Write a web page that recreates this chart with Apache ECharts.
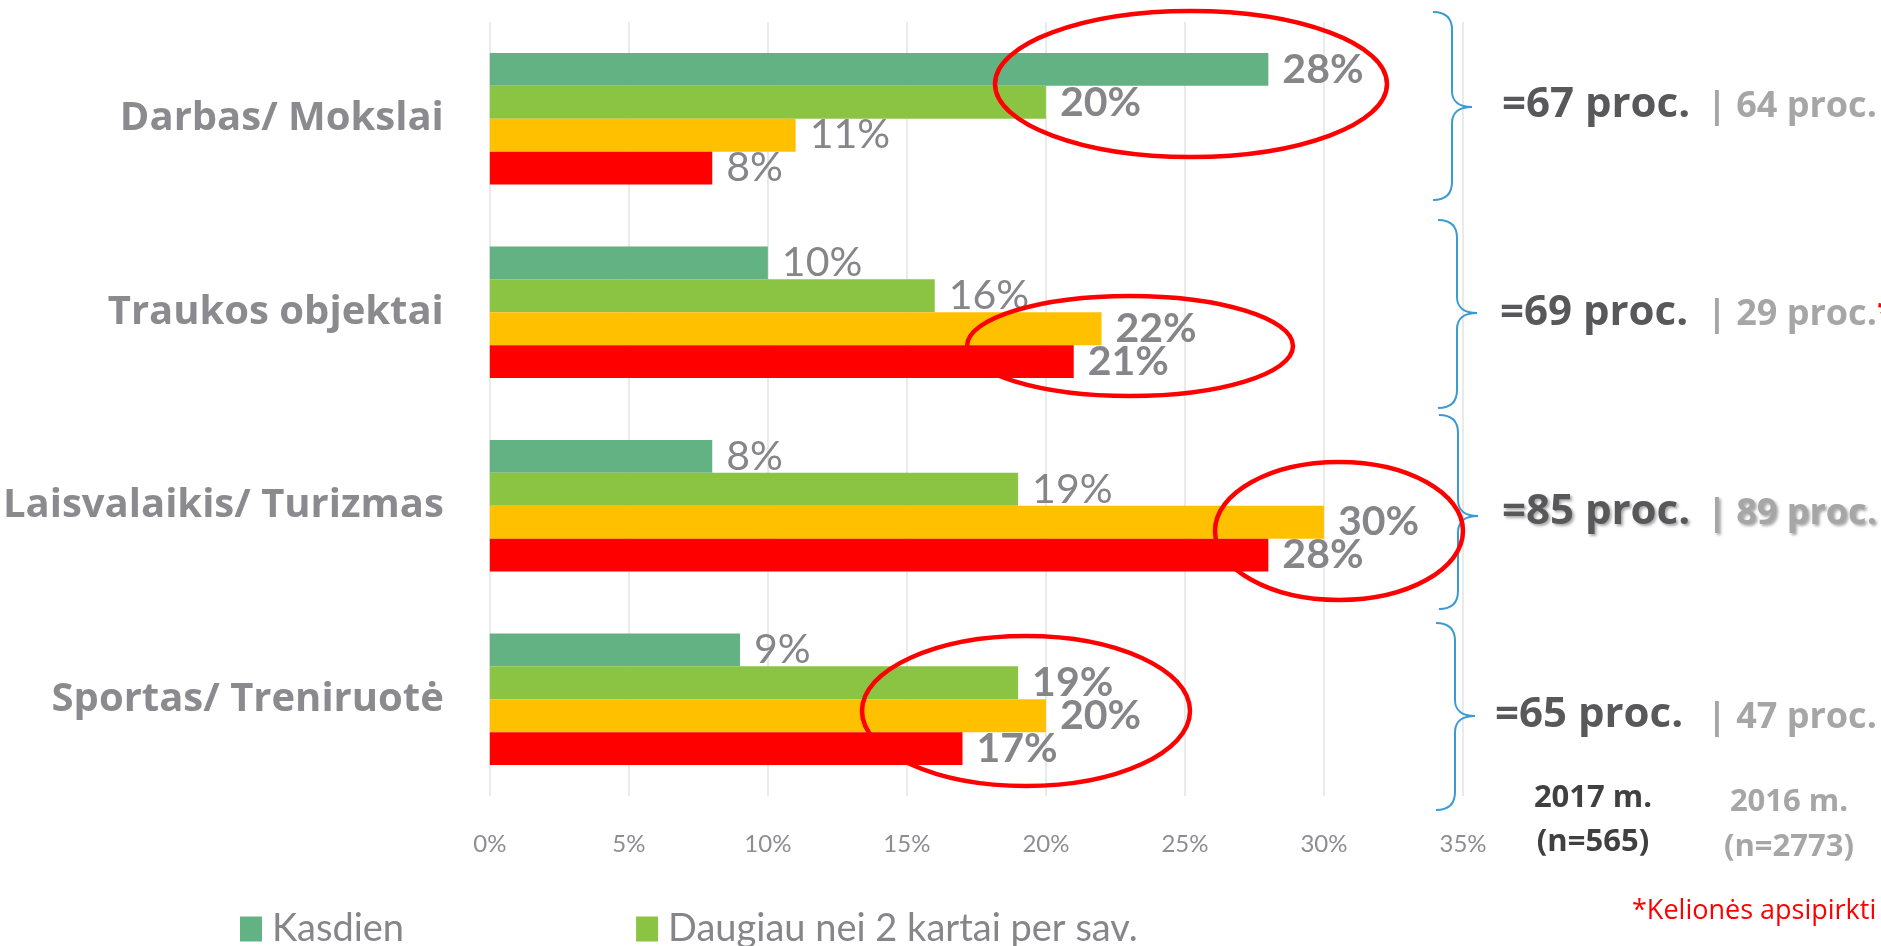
<!DOCTYPE html>
<html>
<head>
<meta charset="utf-8">
<script src="https://cdn.jsdelivr.net/npm/echarts@6/dist/echarts.min.js"></script>
<style>
  html, body { margin: 0; padding: 0; background: #fff; }
  #chart { width: 1881px; height: 946px; }
</style>
</head>
<body>
<div id="chart"></div>
<script>
// kategorijos ir reikšmės (%)
const categories = ['Darbas/ Mokslai', 'Traukos objektai', 'Laisvalaikis/ Turizmas', 'Sportas/ Treniruotė'];
const seriesNames = ['Kasdien', 'Daugiau nei 2 kartai per sav.', '1–2 kartai per sav.', 'Rečiau'];
const kasdien = [28, 10, 8, 9];
const daugiau2 = [20, 16, 19, 19];
const kartaiSav = [11, 22, 30, 20];
const reciau = [8, 21, 28, 17];
// kurios etiketės paryškintos (pagal paveikslą)
const boldKasdien = [true, false, false, false];
const boldDaugiau2 = [true, false, false, true];
const boldKartaiSav = [false, true, true, true];
const boldReciau = [false, true, true, true];
// suvestinės dešinėje
const totals2017 = [67, 69, 85, 65];
const totals2016 = [64, 29, 89, 47];
const xTicks = [0, 5, 10, 15, 20, 25, 30, 35];

const colors = ['#63b283', '#8bc443', '#ffc000', '#ff0000'];
const chart = echarts.init(document.getElementById('chart'));

function withBold(values, bold) {
  return values.map((v, i) => ({ value: v, label: { fontWeight: bold[i] ? 'bold' : 'normal' } }));
}

function barSeries(name, values, bold, color) {
  return {
    name: name,
    type: 'bar',
    data: withBold(values, bold),
    barGap: 0,
    barCategoryGap: '32%',
    itemStyle: { color: color },
    label: {
      show: true,
      position: 'right',
      distance: 14,
      formatter: '{c}%',
      fontFamily: 'Lato',
      fontSize: 41,
      color: '#86868a'
    }
  };
}

const option = {
  animation: false,
  backgroundColor: '#fff',
  grid: { left: 469, right: 418, top: 22, bottom: 150, containLabel: false },
  legend: {
    data: seriesNames.slice(0, 2),
    left: 235,
    top: 905,
    icon: 'rect',
    itemWidth: 22,
    itemHeight: 25,
    itemGap: 232,
    textStyle: { fontFamily: 'Lato', fontSize: 38, color: '#86868a', padding: [0, 0, 0, 5] }
  },
  xAxis: {
    type: 'value',
    min: 0,
    max: 35,
    interval: 5,
    axisLine: { show: false },
    axisTick: { show: false },
    splitLine: { lineStyle: { color: '#e3e3e3', width: 1.5 } },
    axisLabel: {
      formatter: v => xTicks.includes(v) ? v + '%' : '',
      fontFamily: 'Lato',
      fontSize: 24,
      color: '#8e8e92',
      margin: 36
    }
  },
  yAxis: {
    type: 'category',
    data: categories,
    inverse: true,
    axisLine: { show: false },
    axisTick: { show: false },
    axisLabel: {
      fontFamily: 'Open Sans',
      fontWeight: 'bold',
      fontSize: 40,
      color: '#8b8b8f',
      margin: 46
    }
  },
  series: [
    barSeries(seriesNames[0], kasdien, boldKasdien, colors[0]),
    barSeries(seriesNames[1], daugiau2, boldDaugiau2, colors[1]),
    barSeries(seriesNames[2], kartaiSav, boldKartaiSav, colors[2]),
    barSeries(seriesNames[3], reciau, boldReciau, colors[3])
  ]
};
chart.setOption(option);

// anotacijos: skliaustai, elipsės, suvestinės
const braces = [
  { xs: 1452, top: 12, tip: 107, bottom: 200 },
  { xs: 1457, top: 220, tip: 313, bottom: 408 },
  { xs: 1458, top: 415, tip: 516, bottom: 609 },
  { xs: 1455, top: 623, tip: 716, bottom: 810 }
];
const ellipses = [
  { cx: 1191, cy: 84, rx: 196, ry: 73 },
  { cx: 1130, cy: 346, rx: 163, ry: 50 },
  { cx: 1339, cy: 531, rx: 124, ry: 69 },
  { cx: 1026, cy: 711, rx: 164, ry: 75 }
];
const rowText = [
  { x: 1502, y: 105, y2: 107 },
  { x: 1500, y: 313, y2: 315 },
  { x: 1502, y: 512, y2: 514 },
  { x: 1495, y: 715, y2: 718 }
];

const braceStyle = { stroke: '#3a9ad4', lineWidth: 2, fill: null };
function bez(x1, y1, c1x, c1y, c2x, c2y, x2, y2) {
  return { type: 'bezierCurve', z: 50, silent: true,
    shape: { x1: x1, y1: y1, cpx1: c1x, cpy1: c1y, cpx2: c2x, cpy2: c2y, x2: x2, y2: y2 },
    style: braceStyle };
}
function line(x1, y1, x2, y2) {
  return { type: 'line', z: 50, silent: true, shape: { x1: x1, y1: y1, x2: x2, y2: y2 }, style: braceStyle };
}

const graphics = [];
braces.forEach(b => {
  const s = b.xs;
  graphics.push(
    bez(s - 19, b.top, s - 6, b.top, s, b.top + 6, s, b.top + 18),
    line(s, b.top + 18, s, b.tip - 16),
    bez(s, b.tip - 16, s, b.tip - 5, s + 8, b.tip, s + 20, b.tip),
    bez(s + 20, b.tip, s + 8, b.tip, s, b.tip + 5, s, b.tip + 16),
    line(s, b.tip + 16, s, b.bottom - 18),
    bez(s, b.bottom - 18, s, b.bottom - 6, s - 6, b.bottom, s - 19, b.bottom)
  );
});
ellipses.forEach(e => {
  graphics.push({ type: 'ellipse', z: 60, silent: true,
    shape: { cx: e.cx, cy: e.cy, rx: e.rx, ry: e.ry },
    style: { stroke: '#ff0000', lineWidth: 4.5, fill: null } });
});
rowText.forEach((r, i) => {
  const shadow = i === 2;
  graphics.push({ type: 'text', z: 70, x: r.x, y: r.y,
    style: {
      text: '=' + totals2017[i] + ' proc.',
      font: 'bold 42px "Open Sans"', fill: '#58585a',
      verticalAlign: 'middle', align: 'left',
      textShadowColor: shadow ? 'rgba(0,0,0,0.35)' : 'transparent',
      textShadowBlur: shadow ? 3 : 0, textShadowOffsetX: shadow ? 2 : 0, textShadowOffsetY: shadow ? 2 : 0
    } });
  graphics.push({ type: 'text', z: 70, x: 1707, y: r.y2,
    style: {
      text: '| ' + totals2016[i] + ' proc.' + (i === 1 ? '{star|*}' : ''),
      font: 'bold 36px "Open Sans"', fill: '#a6a6a6',
      verticalAlign: 'middle', align: 'left',
      rich: { star: { fill: '#ff0000', font: 'bold 36px "Open Sans"', verticalAlign: 'top' } },
      textShadowColor: shadow ? 'rgba(0,0,0,0.35)' : 'transparent',
      textShadowBlur: shadow ? 3 : 0, textShadowOffsetX: shadow ? 2 : 0, textShadowOffsetY: shadow ? 2 : 0
    } });
});
graphics.push(
  { type: 'text', x: 1593, y: 798, style: { text: '2017 m.', font: 'bold 31px "Open Sans"', fill: '#404040', align: 'center', verticalAlign: 'middle' } },
  { type: 'text', x: 1593, y: 842, style: { text: '(n=565)', font: 'bold 31px "Open Sans"', fill: '#404040', align: 'center', verticalAlign: 'middle' } },
  { type: 'text', x: 1789, y: 802, style: { text: '2016 m.', font: 'bold 31px "Open Sans"', fill: '#a6a6a6', align: 'center', verticalAlign: 'middle' } },
  { type: 'text', x: 1789, y: 847, style: { text: '(n=2773)', font: 'bold 31px "Open Sans"', fill: '#a6a6a6', align: 'center', verticalAlign: 'middle' } },
  { type: 'text', x: 1632, y: 911, style: { text: '*Kelionės apsipirkti', font: '27px "Open Sans"', fill: '#ff0000', align: 'left', verticalAlign: 'middle' } }
);
chart.setOption({ graphic: graphics });
</script>
</body>
</html>
